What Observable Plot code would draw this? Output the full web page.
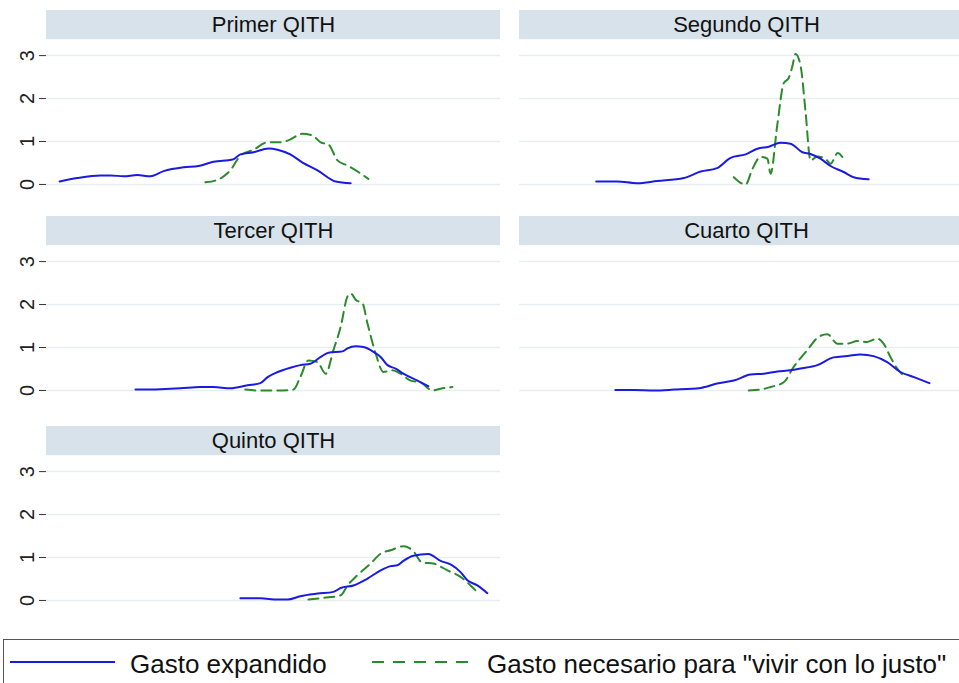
<!DOCTYPE html>
<html>
<head>
<meta charset="utf-8">
<script src="https://cdn.jsdelivr.net/npm/d3@7"></script>
<script src="https://cdn.jsdelivr.net/npm/@observablehq/plot@0.6"></script>
<style>
html, body { margin: 0; padding: 0; background: #fff; overflow: hidden; }
#root { position: relative; width: 959px; height: 683px; overflow: hidden; background: #fff;
  font-family: "Liberation Sans", Arial, sans-serif; }
#root svg.panel { position: absolute; overflow: visible; }
#legend { position: absolute; left: 3px; top: 639px; width: 1000px; height: 80px;
  border: 1.5px solid #555; box-sizing: border-box; }
.leg-text { position: absolute; top: 651px; font-size: 26px; line-height: 26px; color: #111; white-space: nowrap; }
.leg-line { position: absolute; overflow: visible; }
</style>
</head>
<body>
<div id="root"></div>
<script>
// ---------- data ----------
const panelNames = ["Primer QITH", "Segundo QITH", "Tercer QITH", "Cuarto QITH", "Quinto QITH"];
const seriesNames = ["Gasto expandido", "Gasto necesario para \"vivir con lo justo\""];
const yTicks = [0, 1, 2, 3];
const yTickLabels = ["0", "1", "2", "3"];

// Gasto expandido (solid blue)
const expandidoX = [
  [0.29,0.68,1.19,1.41,1.70,2.00,2.29,2.58,3.02,3.35,3.68,4.10,4.27,4.56,4.89,5.09,5.37,5.64,5.97,6.37,6.70],
  [1.69,2.15,2.59,3.03,3.62,3.99,4.35,4.65,4.98,5.24,5.49,5.75,5.97,6.23,6.41,6.63,6.85,7.14,7.36,7.69],
  [1.96,2.51,2.95,3.39,3.68,4.05,4.43,4.71,4.87,5.09,5.37,5.59,5.81,6.04,6.21,6.52,6.63,6.81,6.98,7.20,7.36,7.51,7.69,7.86,8.17,8.41],
  [2.11,2.52,2.96,3.40,3.99,4.35,4.72,5.09,5.38,5.68,5.97,6.19,6.56,6.92,7.22,7.51,7.80,8.10,8.39,8.69,9.03],
  [4.27,4.71,5.09,5.31,5.59,5.97,6.32,6.48,6.76,7.07,7.36,7.58,7.73,7.86,8.08,8.41,8.68,8.90,9.12,9.27,9.49,9.71]
];
const expandidoY = [
  [0.07,0.15,0.21,0.21,0.19,0.22,0.19,0.31,0.40,0.43,0.53,0.58,0.70,0.75,0.84,0.81,0.70,0.51,0.33,0.07,0.03],
  [0.07,0.07,0.03,0.08,0.15,0.30,0.38,0.62,0.70,0.83,0.88,0.97,0.95,0.75,0.71,0.60,0.43,0.29,0.17,0.12],
  [0.02,0.03,0.05,0.08,0.08,0.05,0.12,0.17,0.31,0.43,0.53,0.59,0.62,0.78,0.88,0.91,0.98,1.03,1.01,0.90,0.78,0.59,0.51,0.39,0.23,0.10],
  [0.01,0.01,0.00,0.02,0.06,0.16,0.23,0.37,0.39,0.44,0.47,0.51,0.59,0.77,0.80,0.84,0.80,0.66,0.43,0.31,0.17],
  [0.05,0.05,0.02,0.02,0.10,0.16,0.20,0.29,0.35,0.51,0.70,0.80,0.82,0.92,1.04,1.08,0.92,0.84,0.66,0.47,0.35,0.17]
];

// Gasto necesario para "vivir con lo justo" (dashed green)
const necesarioX = [
  [3.50,3.77,4.05,4.27,4.56,4.87,5.09,5.31,5.64,5.86,6.04,6.21,6.41,6.63,6.87,7.09],
  [4.72,4.98,5.13,5.31,5.46,5.53,5.68,5.82,5.93,6.01,6.08,6.19,6.30,6.41,6.56,6.74,6.85,7.01,7.11],
  [4.38,4.65,4.93,5.20,5.44,5.59,5.77,5.97,6.15,6.32,6.48,6.63,6.70,6.81,6.96,7.07,7.25,7.42,7.62,7.80,8.02,8.24,8.50,8.68,8.94],
  [5.05,5.31,5.53,5.82,6.04,6.34,6.59,6.78,7.00,7.22,7.44,7.66,7.88,8.02,8.17,8.32,8.50],
  [5.77,6.10,6.48,6.63,6.85,7.14,7.36,7.58,7.86,8.06,8.28,8.52,8.83,9.12,9.34,9.52]
];
const necesarioY = [
  [0.05,0.11,0.33,0.67,0.81,0.98,0.98,1.02,1.18,1.14,0.98,0.93,0.56,0.44,0.29,0.13],
  [0.17,0.00,0.36,0.64,0.60,0.25,1.40,2.36,2.48,2.75,3.04,2.77,1.70,0.56,0.65,0.60,0.48,0.73,0.64],
  [0.02,0.00,0.00,0.00,0.02,0.31,0.70,0.66,0.39,0.94,1.48,2.19,2.26,2.11,2.03,1.56,0.86,0.43,0.47,0.39,0.23,0.19,0.00,0.04,0.08],
  [0.00,0.02,0.08,0.19,0.55,0.94,1.25,1.31,1.09,1.09,1.15,1.13,1.21,1.09,0.78,0.51,0.31],
  [0.02,0.06,0.12,0.35,0.59,0.86,1.09,1.17,1.26,1.17,0.88,0.86,0.70,0.55,0.35,0.16]
];

// ---------- layout / style ----------
const BLUE = "#1a1ae0";
const GREEN = "#2b8a2b";
const xDomain = [0, 10];
const yDomain = [-0.35, 4.05];
const headerBand = [3.37, 4.05];
const rowTops = [10, 216, 426];
const colLefts = [0, 473];

const root = document.getElementById("root");

panelNames.forEach((name, i) => {
  const col = i % 2, row = Math.floor(i / 2);
  const exp = expandidoX[i].map((x, j) => ({x, y: expandidoY[i][j]}));
  const nec = necesarioX[i].map((x, j) => ({x, y: necesarioY[i][j]}));
  const chart = Plot.plot({
    width: 500, height: 189,
    marginLeft: 46, marginRight: 0, marginTop: 0, marginBottom: 0,
    style: {background: "transparent", fontFamily: "\"Liberation Sans\", Arial, sans-serif", overflow: "visible"},
    x: {domain: xDomain, axis: null},
    y: {domain: yDomain, axis: null},
    marks: [
      Plot.rect([name], {x1: xDomain[0], x2: xDomain[1], y1: headerBand[0], y2: headerBand[1], fill: "#d7e2ea"}),
      Plot.text([name], {x: (xDomain[0] + xDomain[1]) / 2, y: (headerBand[0] + headerBand[1]) / 2,
        text: d => d, fontSize: 22, fill: "#111", lineAnchor: "middle"}),
      Plot.ruleY(yTicks, {stroke: "#e6eef1", strokeWidth: 1.5}),
      col === 0 ? Plot.axisY({ticks: yTicks, tickFormat: (d, k) => yTickLabels[yTicks.indexOf(d)],
        tickRotate: -90, fontSize: 20, tickSize: 7, tickPadding: 6,
        stroke: "#333", fill: "#222", label: null}) : null,
      Plot.line(nec, {x: "x", y: "y", stroke: GREEN, strokeWidth: 2, strokeDasharray: "10,6", curve: "monotone-x"}),
      Plot.line(exp, {x: "x", y: "y", stroke: BLUE, strokeWidth: 2, curve: "monotone-x"})
    ]
  });
  chart.classList.add("panel");
  chart.style.left = colLefts[col] + "px";
  chart.style.top = rowTops[row] + "px";
  root.appendChild(chart);
});

// ---------- legend ----------
const legend = document.createElement("div");
legend.id = "legend";
root.appendChild(legend);

function legendLine(x1, x2, color, dash) {
  const ns = "http://www.w3.org/2000/svg";
  const svg = document.createElementNS(ns, "svg");
  svg.setAttribute("class", "leg-line");
  svg.setAttribute("width", x2 - x1);
  svg.setAttribute("height", 6);
  svg.style.left = x1 + "px";
  svg.style.top = "659px";
  const ln = document.createElementNS(ns, "line");
  ln.setAttribute("x1", 0); ln.setAttribute("x2", x2 - x1);
  ln.setAttribute("y1", 3); ln.setAttribute("y2", 3);
  ln.setAttribute("stroke", color); ln.setAttribute("stroke-width", 2);
  if (dash) ln.setAttribute("stroke-dasharray", dash);
  svg.appendChild(ln);
  root.appendChild(svg);
}
function legendText(x, t) {
  const s = document.createElement("span");
  s.className = "leg-text";
  s.style.left = x + "px";
  s.textContent = t;
  root.appendChild(s);
}
legendLine(10, 115, BLUE, null);
legendText(130, seriesNames[0]);
legendLine(372, 472, GREEN, "12,9");
legendText(487, seriesNames[1]);
</script>
</body>
</html>
